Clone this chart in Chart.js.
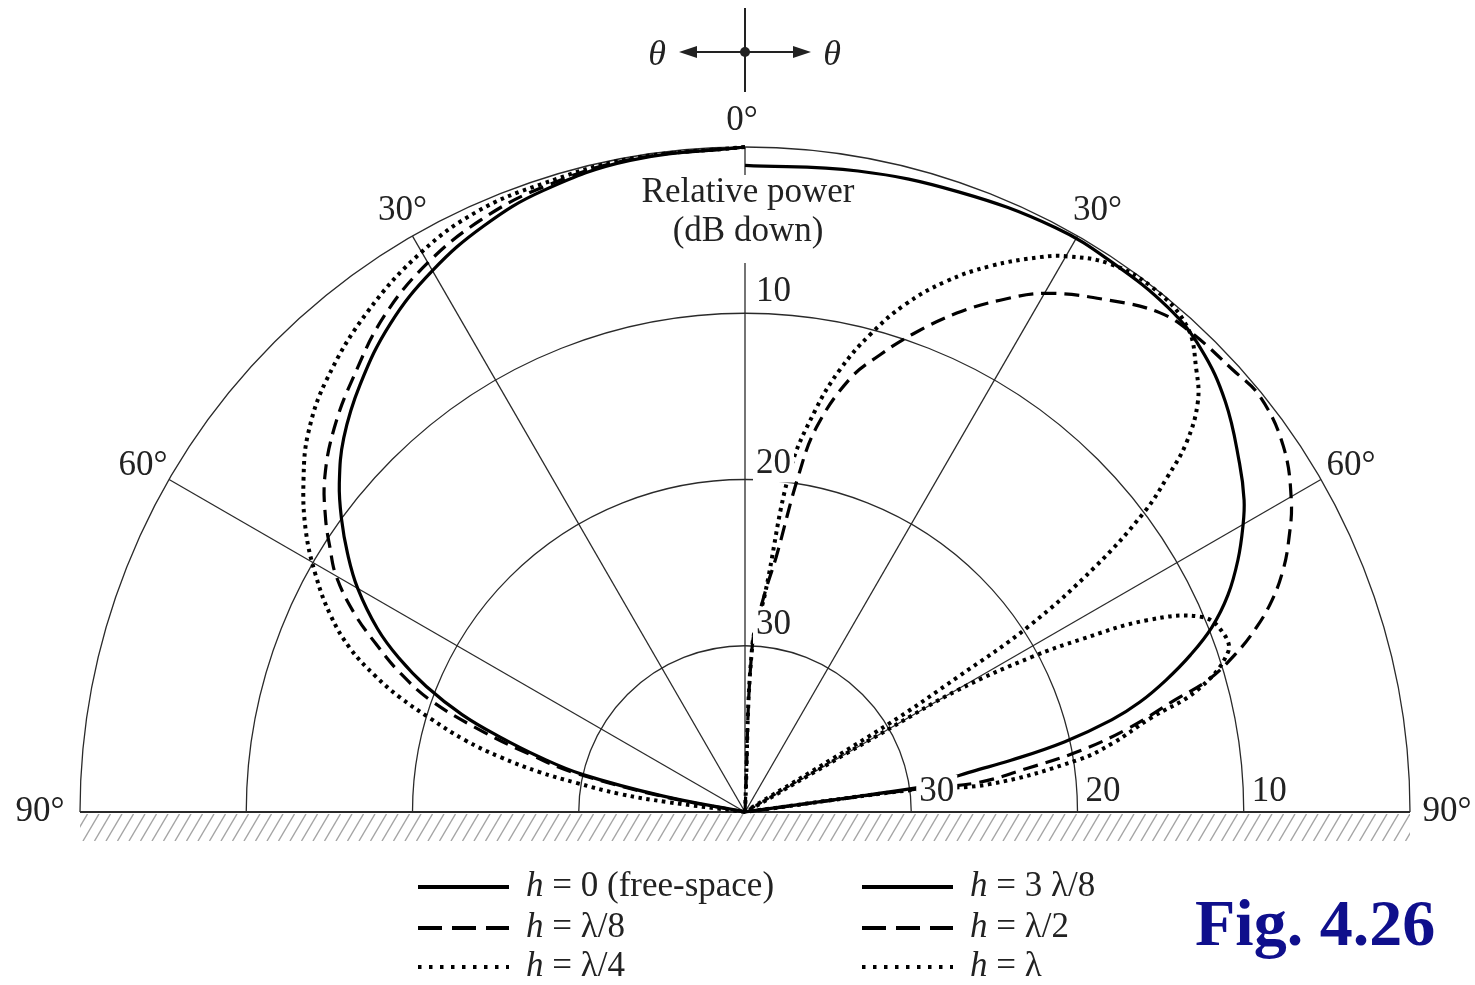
<!DOCTYPE html>
<html lang="en">
<head>
<meta charset="UTF-8">
<title>Fig. 4.26</title>
<script src="https://cdn.jsdelivr.net/npm/chart.js"></script>
<style>
  html, body { margin: 0; padding: 0; background: #fff; }
  #wrap { width: 1475px; height: 985px; }
</style>
</head>
<body>
<div id="wrap"><canvas id="pattern" width="1475" height="985"></canvas></div>
<script>
// angles: degrees from zenith (negative = left half); values: dB down
const ringDb = [0, 10, 20, 30];
const ringLabels = ['10', '20', '30'];
const spokeDeg = [-60, -30, 0, 30, 60];
const spokeLabels = ['60°', '30°', '0°', '30°', '60°'];
const DB_FLOOR = 40;

// left half
const freeDeg = [0, -10, -18, -24, -30, -36, -42, -47, -51, -54, -57, -60, -63.5, -66, -68.5, -71, -73, -75, -77, -79, -80.5];
const freeDb  = [0, 0.2, 0.7, 1.4, 2.4, 3.7, 5.4, 7.0, 8.6, 10.0, 11.5, 13.1, 15.3, 17.2, 19.4, 22.0, 24.6, 27.2, 30.0, 35.0, 40];

const eighthDeg = [0, -10, -18, -24, -30, -36, -42, -47, -51.5, -55, -57.5, -60, -63, -65.5, -68, -70.5, -73, -75, -77, -79.3, -80.8];
const eighthDb  = [0, 0.15, 0.5, 1.0, 1.85, 3.1, 4.8, 6.2, 7.7, 9.2, 10.4, 11.6, 13.6, 15.6, 17.6, 20.0, 23.6, 26.6, 29.4, 35, 40];

const quarterDeg = [0, -10, -18, -24, -30, -37, -44, -49, -53, -57.3, -61.1, -64.6, -67.5, -69.8, -71.6, -73.4, -75.6, -77.35, -79, -80.2, -81.8, -82.7, -83.5];
const quarterDb  = [0, 0.1, 0.3, 0.45, 1.1, 2.3, 3.8, 5.2, 6.75, 8.6, 10.5, 12.4, 14.3, 16.3, 18.1, 20.2, 22.6, 24.9, 27.4, 29.7, 32.4, 35.3, 40];

// right half
const threeEighthDeg = [0, 10, 19, 28, 34, 40, 44.5, 49.5, 54.8, 58, 60.2, 62.9, 65.8, 68.4, 70.6, 72.6, 74.44, 75.9, 77.6, 79, 79.9, 81.2, 82, 82.5];
const threeEighthDb  = [1.1, 0.85, 0.55, 0.2, 0.25, 0.4, 0.9, 2.0, 3.6, 4.6, 5.49, 6.69, 8.15, 9.79, 11.6, 13.46, 15.34, 17.26, 20.3, 23.7, 26.15, 28.3, 29.6, 40];

const halfDeg = [0, 2.5, 5, 7, 9, 10.5, 13.6, 16.5, 19.4, 23, 26.5, 30.2, 35.5, 39.7, 43, 47.8, 51.1, 55.8, 60.3, 63.4, 65.8, 68.1, 70.2, 72.2, 74.1, 75.4, 77.7, 79.7, 81.2, 82.8, 82.4, 82.5];
const halfDb  = [40, 30, 27, 24.5, 19.6, 16.5, 13.2, 11.3, 9.5, 7.4, 5.6, 3.9, 2.2, 0.96, 0.6, 0.4, 0.2, 0.85, 2.17, 3.42, 4.52, 5.83, 7.33, 9.05, 11.04, 13.27, 16.4, 19.6, 22.8, 25.9, 29.6, 40];

const fullDeg = [0, 2.5, 5.2, 7.5, 9.9, 12.1, 14.7, 17.5, 20.7, 24.2, 28, 30, 33.6, 37.8, 42.3, 45.6, 47.9, 50.1, 51.6, 53.1, 55, 56.8, 57.6, 58.5, 59.5, 60, 60.2, 61.6, 62.8, 64.5, 66.9, 69.4, 71.7, 74.9, 77, 79.4, 81.1, 83.5, 82.5, 82.5];
const fullDb  = [40, 30, 26.9, 19.3, 15.5, 12.8, 10.3, 8.0, 5.9, 4.0, 2.2, 1.4, 0.4, 0.05, 0.5, 2.0, 3.3, 5.4, 7.6, 10.0, 14.3, 19.6, 24.8, 30, 40, 30, 25.2, 20.4, 17.3, 13.2, 10.1, 9.3, 9.4, 11.8, 15.0, 17.5, 19.7, 25.2, 29.6, 40];

const seriesLabels = ['h = 0 (free-space)', 'h = λ/8', 'h = λ/4', 'h = 3 λ/8', 'h = λ/2', 'h = λ'];

// page layout
const W = 1475, H = 985;
const CX = 745, CY = 812, PX_PER_DB = 16.625;
const SERIF = '"Liberation Serif", "Times New Roman", serif';

const SOLID = [], DASH = [15, 8], DOT = [3.5, 4.5];

function toXY(degs, dbs) {
    return degs.map((d, i) => {
        const r = Math.max(0, DB_FLOOR - dbs[i]);
        const a = d * Math.PI / 180;
        return { x: r * Math.sin(a), y: r * Math.cos(a) };
    });
}

const series = [
    { deg: freeDeg, db: freeDb, dash: SOLID, width: 3.2 },
    { deg: eighthDeg, db: eighthDb, dash: DASH, width: 3.2 },
    { deg: quarterDeg, db: quarterDb, dash: DOT, width: 4 },
    { deg: threeEighthDeg, db: threeEighthDb, dash: SOLID, width: 3.2 },
    { deg: halfDeg, db: halfDb, dash: DASH, width: 3.2 },
    { deg: fullDeg, db: fullDb, dash: DOT, width: 4 }
];

// text with a white box behind it (hides curves like the printed figure)
function boxedText(ctx, text, x, y) {
    const w = ctx.measureText(text).width;
    ctx.fillStyle = '#fff';
    ctx.fillRect(x - 3, y - 17, w + 6, 36);
    ctx.fillStyle = '#222';
    ctx.fillText(text, x, y);
}

const polarGrid = {
    id: 'polarGrid',
    beforeDatasetsDraw(chart) {
        const { ctx, scales: { x, y } } = chart;
        const cx = x.getPixelForValue(0), cy = y.getPixelForValue(0);
        const unit = x.getPixelForValue(1) - cx;
        const R = DB_FLOOR * unit;
        ctx.save();
        ctx.strokeStyle = '#2a2a2a';
        ctx.lineWidth = 1.3;
        ringDb.forEach(db => {
            ctx.beginPath();
            ctx.arc(cx, cy, (DB_FLOOR - db) * unit, Math.PI, 2 * Math.PI);
            ctx.stroke();
        });
        spokeDeg.forEach(d => {
            const a = d * Math.PI / 180;
            ctx.beginPath();
            ctx.moveTo(cx, cy);
            ctx.lineTo(cx + R * Math.sin(a), cy - R * Math.cos(a));
            ctx.stroke();
        });
        ctx.lineWidth = 2;
        ctx.beginPath();
        ctx.moveTo(cx - R, cy);
        ctx.lineTo(cx + R, cy);
        ctx.stroke();

        // ground hatching
        ctx.beginPath();
        ctx.rect(cx - R, cy + 2, 2 * R, 27);
        ctx.clip();
        ctx.strokeStyle = '#a4a4a4';
        ctx.lineWidth = 1.4;
        for (let hx = cx - R - 20; hx < cx + R + 20; hx += 11.5) {
            ctx.beginPath();
            ctx.moveTo(hx, cy + 29);
            ctx.lineTo(hx + 16, cy + 2);
            ctx.stroke();
        }
        ctx.restore();
    },
    afterDatasetsDraw(chart) {
        const { ctx, scales: { x, y } } = chart;
        const cx = x.getPixelForValue(0), cy = y.getPixelForValue(0);
        const unit = x.getPixelForValue(1) - cx;
        const R = DB_FLOOR * unit;
        ctx.save();
        ctx.font = '35px ' + SERIF;
        ctx.textBaseline = 'middle';
        ctx.fillStyle = '#222';

        // Relative power caption over the 0° spoke
        ctx.fillStyle = '#fff';
        ctx.fillRect(cx - 108, cy - R + 28, 218, 88);
        ctx.fillStyle = '#222';
        ctx.textAlign = 'center';
        ctx.fillText('Relative power', cx + 3, cy - R + 46);
        ctx.fillText('(dB down)', cx + 3, cy - R + 85);

        // ring labels on the 0° spoke and on the baseline
        ctx.textAlign = 'left';
        const lift = [21, 16, 21];
        ringLabels.forEach((t, i) => {
            const r = (DB_FLOOR - ringDb[i + 1]) * unit;
            boxedText(ctx, t, cx + 11, cy - r - lift[i]);
            boxedText(ctx, t, cx + r + 8, cy - 20);
        });

        // angle labels
        ctx.textAlign = 'center';
        const nudge = [0, 5, -3, 5, 4];
        spokeDeg.forEach((d, i) => {
            const a = d * Math.PI / 180;
            const rr = d === 0 ? R + 26 : R + 30;
            ctx.fillText(spokeLabels[i], cx + rr * Math.sin(a) + nudge[i], cy - rr * Math.cos(a) + (d === 0 ? 0 : 1));
        });
        ctx.fillText('90°', cx - R - 40, cy);
        ctx.fillText('90°', cx + R + 37, cy);

        // theta direction cross
        ctx.strokeStyle = '#222';
        ctx.fillStyle = '#222';
        ctx.lineWidth = 2;
        ctx.beginPath();
        ctx.moveTo(cx, 8); ctx.lineTo(cx, 92);
        ctx.moveTo(cx - 55, 52); ctx.lineTo(cx + 55, 52);
        ctx.stroke();
        [[-1, cx - 66], [1, cx + 66]].forEach(([s, tip]) => {
            ctx.beginPath();
            ctx.moveTo(tip, 52);
            ctx.lineTo(tip - s * 18, 46);
            ctx.lineTo(tip - s * 18, 58);
            ctx.closePath();
            ctx.fill();
        });
        ctx.beginPath();
        ctx.arc(cx, 52, 5, 0, 2 * Math.PI);
        ctx.fill();
        ctx.font = 'italic 36px ' + SERIF;
        ctx.fillText('θ', cx - 88, 56);
        ctx.fillText('θ', cx + 87, 56);

        // legend
        const cols = [418, 862];
        const rows = [887, 928, 967];
        chart.data.datasets.forEach((ds, i) => {
            const lx = cols[Math.floor(i / 3)], ly = rows[i % 3];
            ctx.strokeStyle = '#000';
            ctx.lineWidth = 4;
            ctx.lineCap = 'butt';
            ctx.setLineDash(ds.borderDash.length === 0 ? [] : (ds.borderDash === DASH ? [24, 10] : [3.5, 7.5]));
            ctx.beginPath();
            ctx.moveTo(lx, ly);
            ctx.lineTo(lx + 91, ly);
            ctx.stroke();
            ctx.setLineDash([]);
            const label = seriesLabels[i];
            ctx.textAlign = 'left';
            ctx.fillStyle = '#222';
            ctx.font = 'italic 35px ' + SERIF;
            ctx.fillText(label[0], lx + 108, ly);
            const hw = ctx.measureText(label[0]).width;
            ctx.font = '35px ' + SERIF;
            ctx.fillText(label.slice(1), lx + 108 + hw, ly);
        });

        // figure number
        ctx.font = 'bold 66px ' + SERIF;
        ctx.textBaseline = 'alphabetic';
        ctx.fillStyle = '#0f0f8c';
        ctx.fillText('Fig. 4.26', 1195, 945);
        ctx.restore();
    }
};

const chart = new Chart(document.getElementById('pattern'), {
    type: 'scatter',
    data: {
        datasets: series.map((s, i) => ({
            label: seriesLabels[i],
            data: toXY(s.deg, s.db),
            showLine: true,
            borderColor: '#000',
            borderWidth: s.width,
            borderDash: s.dash,
            borderCapStyle: 'butt',
            tension: 0.4,
            pointRadius: 0,
            fill: false
        }))
    },
    options: {
        responsive: false,
        animation: false,
        devicePixelRatio: 1,
        layout: { padding: 0 },
        scales: {
            x: { type: 'linear', display: false, min: -CX / PX_PER_DB, max: (W - CX) / PX_PER_DB },
            y: { type: 'linear', display: false, min: -(H - CY) / PX_PER_DB, max: CY / PX_PER_DB }
        },
        plugins: { legend: { display: false }, tooltip: { enabled: false } }
    },
    plugins: [polarGrid]
});
</script>
</body>
</html>
